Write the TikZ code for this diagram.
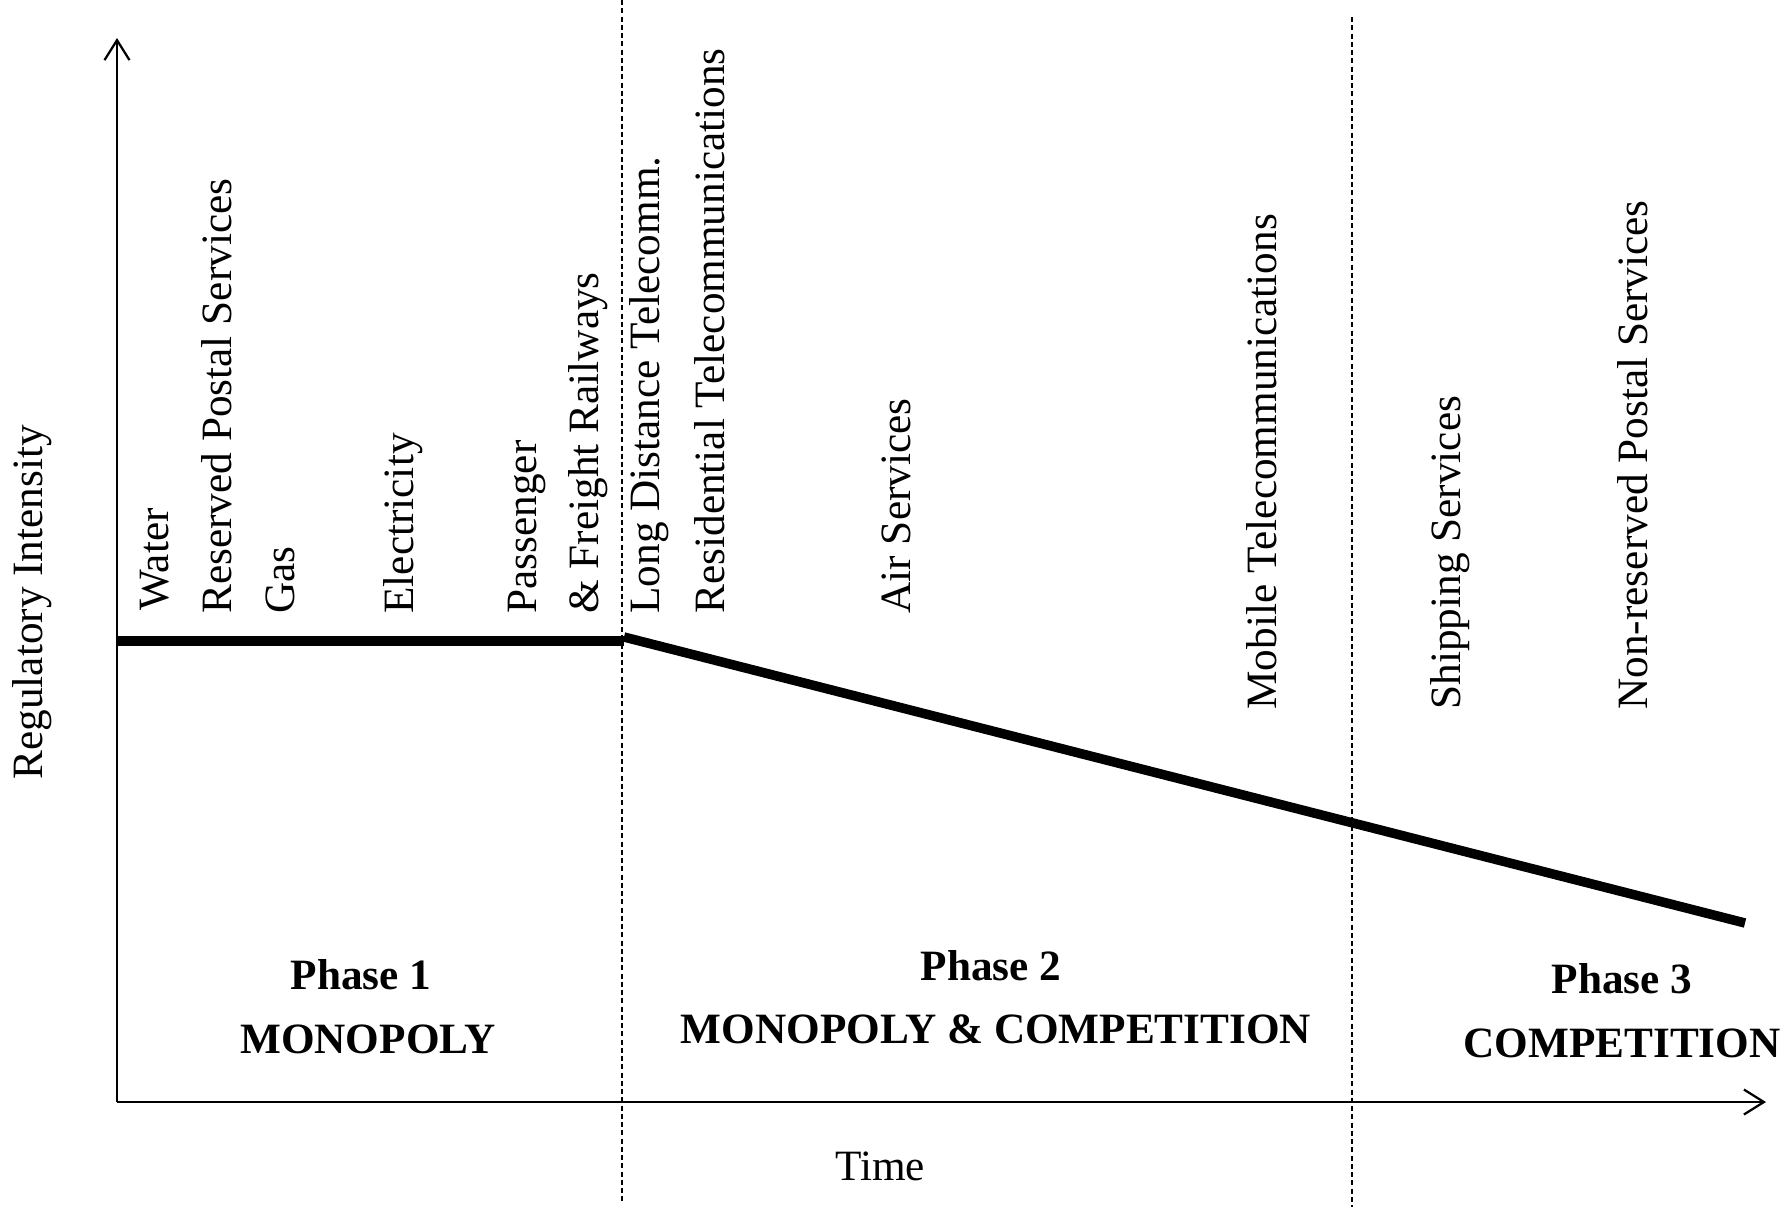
\documentclass[tikz,border=0pt]{standalone}
\usepackage{fontspec}
\setmainfont{Liberation Serif}
\usetikzlibrary{arrows.meta}
\begin{document}
\begin{tikzpicture}[x=0.4pt,y=-0.4pt,
  lbl/.style={rotate=90,anchor=base west,inner sep=0pt,font=\fontsize{17.3}{20}\selectfont},
  phase/.style={anchor=base,inner sep=0pt,font=\fontsize{17.3}{20}\selectfont\bfseries},
  axis/.style={line width=0.9pt,-{Straight Barb[length=8pt,width=10pt]}},
  divider/.style={line width=0.5pt,dash pattern=on 2pt off 1.3pt},
  trend/.style={line width=3.8pt}]
\useasboundingbox (0,0) rectangle (1791,1207);
% axes
\coordinate (O) at (117,1102);
\coordinate (Ytop) at (117,38);
\coordinate (Xend) at (1766,1102);
\draw[axis] (O) -- (Ytop);
\draw[axis] (O) -- (Xend);
% dividers
\coordinate (d1t) at (622,0);
\coordinate (d1b) at (622,1203);
\coordinate (d2t) at (1352,17);
\coordinate (d2b) at (1352,1207);
\draw[divider] (d1t) -- (d1b);
\draw[divider] (d2t) -- (d2b);
% trend
\coordinate (t0) at (117,641);
\coordinate (t1) at (624,641);
\coordinate (t2) at (624,637);
\coordinate (t3) at (1745,923);
\draw[trend] (t0) -- (t1);
\draw[trend] (t2) -- (t3);
% labels
\node[lbl] (water) at (168,611) {Water};
\node[lbl] (rps) at (231,614) {Reserved Postal Services};
\node[lbl] (gas) at (294,614) {Gas};
\node[lbl] (elec) at (413,614) {Electricity};
\node[lbl] (pass) at (536,614) {Passenger};
\node[lbl] (rail) at (598,614) {\& Freight Railways};
\node[lbl] (ldt) at (659,614) {Long Distance Telecomm.};
\node[lbl] (res) at (724,614) {Residential Telecommunications};
\node[lbl] (air) at (910,614) {Air Services};
\node[lbl] (mob) at (1276,710) {Mobile Telecommunications};
\node[lbl] (ship) at (1460,710) {Shipping Services};
\node[lbl] (nrps) at (1647,710) {Non-reserved Postal Services};
\node[lbl] (ylab) at (42,780) {Regulatory Intensity};
% phases
\node[phase] (p1) at (361,989) {Phase 1};
\node[phase] (m1) at (368,1053) {MONOPOLY};
\node[phase] (p2) at (991,980) {Phase 2};
\node[phase] (m2) at (996,1043) {MONOPOLY \& COMPETITION};
\node[phase] (p3) at (1622,993) {Phase 3};
\node[phase] (m3) at (1622,1057) {COMPETITION};
\node[anchor=base,inner sep=0pt,font=\fontsize{17.3}{20}\selectfont] (time) at (880,1180) {Time};
\end{tikzpicture}
\end{document}
